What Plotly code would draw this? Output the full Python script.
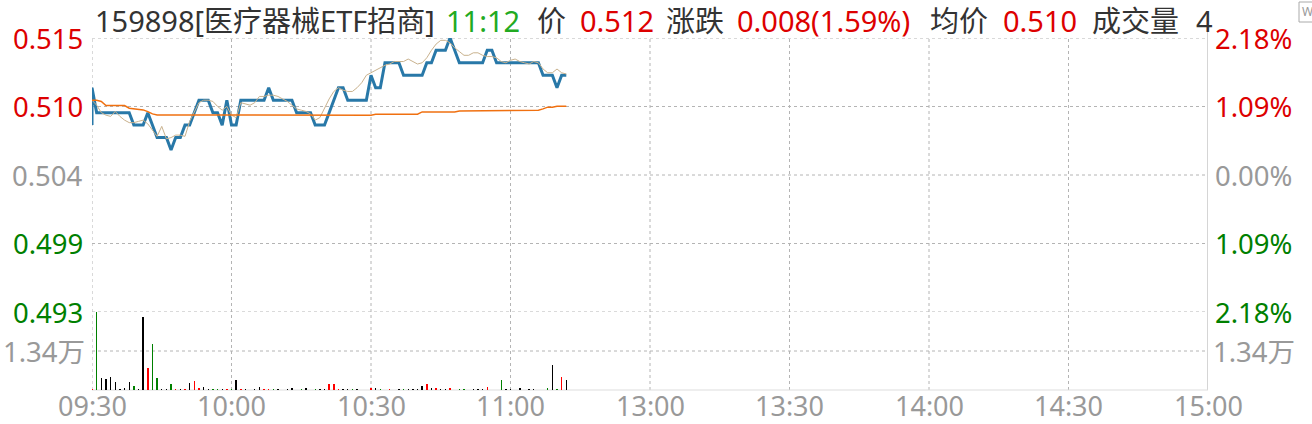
import plotly.graph_objects as go

# ---------------- data ----------------
prev_close = 0.504
open_auction_price = 0.508

minutes = list(range(0, 103))

price = [
    0.511, 0.509, 0.509, 0.509, 0.509, 0.509, 0.509, 0.509, 0.509, 0.508,
    0.508, 0.508, 0.509, 0.508, 0.507, 0.507, 0.507, 0.506, 0.507, 0.507,
    0.508, 0.508, 0.509, 0.510, 0.510, 0.510, 0.509, 0.509, 0.508, 0.510,
    0.508, 0.508, 0.510, 0.510, 0.510, 0.510, 0.510, 0.510, 0.511, 0.510,
    0.510, 0.510, 0.510, 0.510, 0.509, 0.509, 0.509, 0.509, 0.508, 0.508,
    0.508, 0.509, 0.510, 0.511, 0.511, 0.510, 0.510, 0.510, 0.510, 0.510,
    0.512, 0.511, 0.511, 0.513, 0.513, 0.513, 0.513, 0.512, 0.512, 0.512,
    0.512, 0.512, 0.513, 0.513, 0.514, 0.514, 0.514, 0.515, 0.514, 0.513,
    0.513, 0.513, 0.513, 0.513, 0.513, 0.514, 0.514, 0.513, 0.513, 0.513,
    0.513, 0.513, 0.513, 0.513, 0.513, 0.513, 0.513, 0.512, 0.512, 0.512,
    0.511, 0.512, 0.512,
]

fast_line = [
    0.5100, 0.5096, 0.5090, 0.5088, 0.5087, 0.5091, 0.5087, 0.5084, 0.5082, 0.5082,
    0.5083, 0.5084, 0.5081, 0.5076, 0.5071, 0.5079, 0.5069, 0.5070, 0.5072, 0.5072,
    0.5071, 0.5083, 0.5090, 0.5098, 0.5100, 0.5100, 0.5099, 0.5095, 0.5092, 0.5095,
    0.5088, 0.5086, 0.5098, 0.5097, 0.5096, 0.5098, 0.5103, 0.5103, 0.5104, 0.5104,
    0.5103, 0.5101, 0.5099, 0.5096, 0.5093, 0.5092, 0.5091, 0.5089, 0.5084, 0.5086,
    0.5094, 0.5101, 0.5107, 0.5110, 0.5108, 0.5107, 0.5107, 0.5110, 0.5114, 0.5120,
    0.5122, 0.5124, 0.5126, 0.5128, 0.5129, 0.5131, 0.5131, 0.5131, 0.5133, 0.5131,
    0.5129, 0.5130, 0.5134, 0.5140, 0.5145, 0.5148, 0.5148, 0.5146, 0.5142, 0.5139,
    0.5136, 0.5136, 0.5138, 0.5138, 0.5136, 0.5135, 0.5135, 0.5134, 0.5131, 0.5130,
    0.5132, 0.5133, 0.5131, 0.5130, 0.5129, 0.5131, 0.5130, 0.5125, 0.5122, 0.5122,
    0.5125, 0.5122, 0.5121,
]

avg_price = [
    0.51000, 0.51000, 0.50990, 0.50957, 0.50957, 0.50957, 0.50957, 0.50957, 0.50936, 0.50930,
    0.50930, 0.50922, 0.50908, 0.50890, 0.50882, 0.50882, 0.50882, 0.50882, 0.50882, 0.50882,
    0.50882, 0.50876, 0.50876, 0.50876, 0.50876, 0.50876, 0.50876, 0.50876, 0.50876, 0.50876,
    0.50876, 0.50876, 0.50876, 0.50876, 0.50876, 0.50880, 0.50880, 0.50880, 0.50880, 0.50880,
    0.50880, 0.50880, 0.50880, 0.50880, 0.50880, 0.50880, 0.50880, 0.50880, 0.50880, 0.50880,
    0.50880, 0.50880, 0.50880, 0.50880, 0.50880, 0.50880, 0.50880, 0.50880, 0.50880, 0.50880,
    0.50880, 0.50888, 0.50888, 0.50888, 0.50888, 0.50888, 0.50888, 0.50888, 0.50888, 0.50888,
    0.50888, 0.50906, 0.50906, 0.50906, 0.50906, 0.50906, 0.50906, 0.50906, 0.50906, 0.50914,
    0.50914, 0.50914, 0.50914, 0.50914, 0.50914, 0.50914, 0.50914, 0.50914, 0.50920, 0.50920,
    0.50920, 0.50920, 0.50920, 0.50920, 0.50920, 0.50920, 0.50920, 0.50930, 0.50944, 0.50944,
    0.50952, 0.50952, 0.50952,
]

vol_minutes = [0, 1, 2, 3, 4, 5, 6, 7, 8, 9, 10, 11, 12, 13, 14, 15, 16, 17, 18, 19,
               20, 21, 22, 23, 24, 25, 26, 27, 28, 29, 30, 31, 32, 33, 35, 36, 37, 38, 39, 40,
               42, 43, 45, 46, 48, 49, 50, 51, 52, 53, 54, 55, 56, 57, 60, 61, 62, 64, 66, 67,
               68, 69, 70, 71, 72, 73, 74, 75, 76, 77, 79, 80, 82, 83, 84, 85, 88, 89, 90, 92,
               94, 95, 98, 99, 100, 101, 102]
vol_values = [0.05, 2.68, 0.40, 0.38, 0.44, 0.27, 0.05, 0.07, 0.26, 0.14, 0.05, 2.50, 0.76, 1.58, 0.40, 0.05, 0.05, 0.21, 0.04, 0.04,
              0.04, 0.24, 0.31, 0.07, 0.09, 0.04, 0.04, 0.04, 0.04, 0.04, 0.04, 0.34, 0.04, 0.04, 0.04, 0.09, 0.04, 0.04, 0.04, 0.04,
              0.04, 0.07, 0.04, 0.07, 0.04, 0.04, 0.04, 0.21, 0.21, 0.04, 0.04, 0.04, 0.04, 0.04, 0.07, 0.07, 0.04, 0.04, 0.04, 0.04,
              0.04, 0.04, 0.04, 0.14, 0.21, 0.07, 0.07, 0.04, 0.04, 0.07, 0.04, 0.04, 0.04, 0.04, 0.04, 0.10, 0.34, 0.04, 0.04, 0.07,
              0.04, 0.04, 0.07, 0.86, 0.04, 0.45, 0.34]
vol_dir = ["r", "g", "k", "k", "k", "k", "k", "k", "k", "g", "k", "k", "r", "g", "g", "k", "k", "g", "r", "k",
           "r", "k", "r", "r", "k", "k", "g", "g", "k", "r", "g", "k", "r", "k", "k", "k", "r", "r", "g", "k",
           "k", "k", "g", "k", "g", "k", "k", "r", "r", "r", "k", "k", "g", "k", "r", "k", "g", "r", "k", "g",
           "k", "k", "k", "k", "r", "k", "r", "k", "k", "r", "g", "g", "k", "k", "k", "r", "g", "k", "k", "k",
           "k", "k", "g", "k", "g", "r", "k"]

left_labels = ["0.515", "0.510", "0.504", "0.499", "0.493"]
right_labels = ["2.18%", "1.09%", "0.00%", "1.09%", "2.18%"]
level_pct = [0.0218, 0.0109, 0.0, -0.0109, -0.0218]
vol_mid = 1.34
vol_max = 2.68
vol_label = "1.34万"
time_ticks = [0, 30, 60, 90, 120, 150, 180, 210, 240]
time_labels = ["09:30", "10:00", "10:30", "11:00", "13:00", "13:30", "14:00", "14:30", "15:00"]

header_items = [
    ("159898[医疗器械ETF招商]", "k"),
    ("11:12", "t"),
    ("价", "k"), ("0.512", "r"),
    ("涨跌", "k"), ("0.008(1.59%)", "r"),
    ("均价", "k"), ("0.510", "r"),
    ("成交量", "k"), ("4", "k"),
]

# ---------------- styling ----------------
W, H = 1312, 424
L, R, T, B = 92, 104, 38, 34
PW = W - L - R
PH = H - T - B
VOL_H = 78
split = VOL_H / PH

RED = "#dd0000"
GREEN = "#008000"
GRAY = "#999999"
TXT = "#333333"
colmap = {"r": "#ff0000", "g": "#008000", "k": "#000000"}
hdrcol = {"k": TXT, "r": RED, "t": "#22aa22"}
FONT = "Noto Sans, Noto Sans CJK SC, sans-serif"
GRID = "#b4b4b4"
AX_FS = 27.5
X_FS = 27
HDR_FS = 29

def px_x(X):
    return (X - L) / PW

def px_y(Y):
    return (H - B - Y) / PH

levels = [prev_close * (1 + p) for p in level_pct]
ymin, ymax = levels[-1], levels[0]

fig = go.Figure()

fig.add_trace(go.Scatter(x=[minutes[0]] + minutes, y=[open_auction_price] + price,
                         mode="lines", line=dict(color="#2878a8", width=3),
                         yaxis="y", hoverinfo="skip"))
fig.add_trace(go.Scatter(x=minutes, y=fast_line, mode="lines",
                         line=dict(color="#c9b28e", width=1), yaxis="y", hoverinfo="skip"))
fig.add_trace(go.Scatter(x=minutes, y=avg_price, mode="lines",
                         line=dict(color="#f07010", width=1.5), yaxis="y", hoverinfo="skip"))
fig.add_trace(go.Bar(x=vol_minutes, y=vol_values, width=0.3,
                     marker=dict(color=[colmap[c] for c in vol_dir], line=dict(width=0)),
                     yaxis="y2", hoverinfo="skip"))

shapes = []
for lv in levels:
    shapes.append(dict(type="line", xref="paper", x0=0, x1=1, yref="y", y0=lv, y1=lv,
                       line=dict(color=GRID, width=1, dash="dot"), layer="below"))
shapes.append(dict(type="line", xref="paper", x0=0, x1=1, yref="y2", y0=vol_mid, y1=vol_mid,
                   line=dict(color=GRID, width=1, dash="dot"), layer="below"))
for t in time_ticks[:-1]:
    shapes.append(dict(type="line", xref="x", x0=t, x1=t, yref="paper", y0=0, y1=1,
                       line=dict(color=GRID, width=1, dash="dot"), layer="below"))
shapes.append(dict(type="line", xref="x", x0=240, x1=240, yref="paper", y0=0, y1=px_y(30),
                   line=dict(color="#aaaaaa", width=1), layer="below"))
shapes.append(dict(type="line", xref="paper", x0=0, x1=1, yref="paper", y0=0, y1=0,
                   line=dict(color="#dddddd", width=1), layer="below"))
# small icon top-right
shapes.append(dict(type="rect", xref="paper", yref="paper",
                   x0=px_x(1299), x1=px_x(1316), y0=px_y(22), y1=px_y(2),
                   line=dict(color="#aaaaaa", width=1)))

ann = []
for lv, lt, rt, p in zip(levels, left_labels, right_labels, level_pct):
    c = RED if p > 0 else (GREEN if p < 0 else GRAY)
    ann.append(dict(x=px_x(85), xref="paper", y=lv, yref="y", text=lt, showarrow=False,
                    xanchor="right", yanchor="middle", font=dict(size=AX_FS, color=c, family=FONT)))
    ann.append(dict(x=px_x(1213), xref="paper", y=lv, yref="y", text=rt, showarrow=False,
                    xanchor="left", yanchor="middle", font=dict(size=AX_FS, color=c, family=FONT)))
ann.append(dict(x=px_x(87), xref="paper", y=vol_mid, yref="y2", text=vol_label, showarrow=False,
                xanchor="right", yanchor="middle", font=dict(size=AX_FS, color=GRAY, family=FONT)))
ann.append(dict(x=px_x(1211), xref="paper", y=vol_mid, yref="y2", text=vol_label, showarrow=False,
                xanchor="left", yanchor="middle", font=dict(size=AX_FS, color=GRAY, family=FONT)))
for t, lab in zip(time_ticks, time_labels):
    ann.append(dict(x=t, xref="x", y=px_y(405), yref="paper", text=lab, showarrow=False,
                    xanchor="center", yanchor="middle", font=dict(size=X_FS, color=GRAY, family=FONT)))

hdr_x = [93, 444, 535, 578, 664, 735, 928, 1001, 1090, 1194]
for (txt, c), X in zip(header_items, hdr_x):
    ann.append(dict(x=px_x(X), xref="paper", y=px_y(20), yref="paper", text=txt, showarrow=False,
                    xanchor="left", yanchor="middle", font=dict(size=HDR_FS, color=hdrcol[c], family=FONT)))
ann.append(dict(x=px_x(1300), xref="paper", y=px_y(12), yref="paper", text="W", showarrow=False,
                xanchor="left", yanchor="middle", font=dict(size=12, color="#999999", family=FONT)))

fig.update_layout(
    width=W, height=H,
    margin=dict(l=L, r=R, t=T, b=B, pad=0),
    paper_bgcolor="white", plot_bgcolor="white",
    showlegend=False,
    bargap=0,
    xaxis=dict(range=[0, 240], showgrid=False, zeroline=False, showticklabels=False,
               showline=False, fixedrange=True),
    yaxis=dict(domain=[split, 1], range=[ymin, ymax], showgrid=False, zeroline=False,
               showticklabels=False, showline=False, fixedrange=True),
    yaxis2=dict(domain=[0, split], range=[0, vol_max], showgrid=False, zeroline=False,
                showticklabels=False, showline=False, fixedrange=True),
    shapes=shapes,
    annotations=ann,
)

fig.write_html("out.html", config={"displayModeBar": False, "staticPlot": True},
               post_script="document.body.style.margin='0px';")
